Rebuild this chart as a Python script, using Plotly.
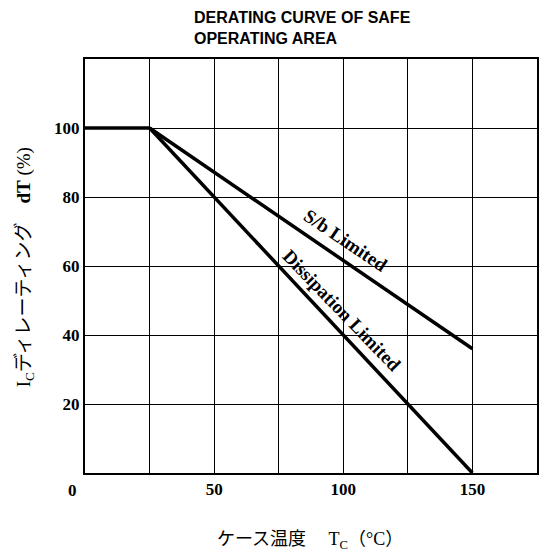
import plotly.graph_objects as go

# Data
temp_flat = [0, 25]
ic_flat = [100, 100]
temp_sb = [25, 150]
ic_sb = [100, 36]
temp_diss = [25, 150]
ic_diss = [100, 0]

x_ticks = [50, 100, 150]
x_labels = ["50", "100", "150"]
x_minor = [25, 75, 125]
y_ticks = [20, 40, 60, 80, 100]
y_labels = ["20", "40", "60", "80", "100"]

SERIF = "Liberation Serif, Times New Roman, Noto Sans CJK JP, serif"
JP = "Liberation Serif, Noto Sans CJK JP, serif"

fig = go.Figure()
for xs, ys in [(temp_flat, ic_flat), (temp_sb, ic_sb), (temp_diss, ic_diss)]:
    fig.add_trace(go.Scatter(x=xs, y=ys, mode="lines",
                             line=dict(color="black", width=3.5),
                             showlegend=False, cliponaxis=False, hoverinfo="skip"))

fig.update_layout(
    width=546, height=554,
    margin=dict(l=85, r=7, t=59, b=81),
    paper_bgcolor="white", plot_bgcolor="white",
    showlegend=False,
    xaxis=dict(range=[0, 175], tickvals=x_ticks, ticktext=x_labels,
               showgrid=True, gridcolor="black", gridwidth=1.2,
               minor=dict(tickvals=x_minor, showgrid=True, gridcolor="black", gridwidth=1.2, ticks=""),
               showline=True, linecolor="black", linewidth=2, mirror=True,
               zeroline=False, ticks="", fixedrange=True,
               tickfont=dict(family=SERIF, size=17, color="black", weight="bold")),
    yaxis=dict(range=[0, 120], tickvals=y_ticks, ticktext=y_labels,
               showgrid=True, gridcolor="black", gridwidth=1.2,
               showline=True, linecolor="black", linewidth=2, mirror=True,
               zeroline=False, ticks="", fixedrange=True,
               tickfont=dict(family=SERIF, size=17, color="black", weight="bold")),
)

# Title
fig.add_annotation(xref="paper", yref="paper", x=0.236, y=1.0 + 52 / 414,
                   xanchor="left", yanchor="top", align="left", showarrow=False,
                   text="<b>DERATING CURVE OF SAFE<br>OPERATING AREA</b>",
                   font=dict(family="Liberation Sans, Arial, sans-serif", size=16, color="black"))

# Origin label
fig.add_annotation(xref="paper", yref="paper", x=-13 / 454, y=-17 / 414,
                   xanchor="center", yanchor="middle", showarrow=False,
                   text="<b>0</b>", font=dict(family=SERIF, size=17, color="black"))

# Curve labels
fig.add_annotation(x=101, y=67.5, xanchor="center", yanchor="middle", showarrow=False,
                   text="<b>S/b Limited</b>", textangle=34,
                   font=dict(family=SERIF, size=19, color="black"))
fig.add_annotation(x=99.5, y=47.2, xanchor="center", yanchor="middle", showarrow=False,
                   text="<b>Dissipation Limited</b>", textangle=46,
                   font=dict(family=SERIF, size=19, color="black"))

# Axis titles
fig.add_annotation(xref="paper", yref="paper", x=(311 - 85) / 454, y=-67 / 414,
                   xanchor="center", yanchor="middle", showarrow=False,
                   text="ケース温度　 T<sub>C</sub>（°C）",
                   font=dict(family=JP, size=18, color="black"))
fig.add_annotation(xref="paper", yref="paper", x=-60 / 454, y=(473 - 267) / 414,
                   xanchor="center", yanchor="middle", showarrow=False, textangle=-90,
                   text="I<sub>C</sub>ディレーティング　<b>dT</b> (%)",
                   font=dict(family=JP, size=19, color="black"))

fig.write_html("out.html", config={"displayModeBar": False},
               post_script="document.body.style.margin='0';")
